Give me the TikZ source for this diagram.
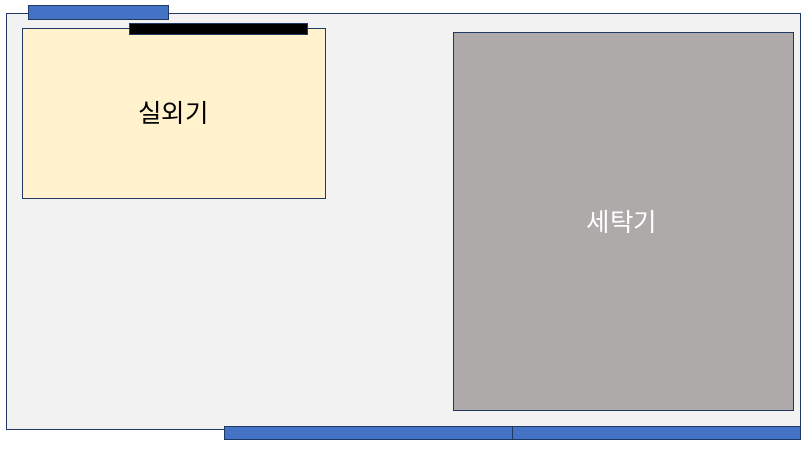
\documentclass[tikz,border=0pt]{standalone}
\usepackage{fontspec}
\newfontfamily\kr{Noto Sans CJK KR}
\usepackage{xcolor}
\definecolor{roomgray}{HTML}{F2F2F2}
\definecolor{edgenavy}{HTML}{1F3864}
\definecolor{winblue}{HTML}{4472C4}
\definecolor{unitcream}{HTML}{FFF2CC}
\definecolor{washgray}{HTML}{AEAAAA}
\tikzset{
  part/.style={draw=edgenavy,line width=0.9pt},
  label/.style={font=\kr\fontsize{25.5}{30}\selectfont,inner sep=0pt}
}
\begin{document}
\begin{tikzpicture}[x=1pt,y=-1pt]
        \useasboundingbox (0,0) rectangle (808,448);
        % room
        \draw[part,fill=roomgray] (6.5,13.5) rectangle (800.5,429.5);
        % windows
        \draw[part,fill=winblue] (28.5,5.5) rectangle (168.5,19.5);
        \foreach \a/\b in {224.5/512.5,512.5/800.5} {
        \draw[part,fill=winblue] (\a,426) rectangle (\b,439.5); }
        % outdoor unit
        \draw[part,fill=unitcream] (22.5,28.5) rectangle (325.5,198);
        \draw[part,fill=black] (129.5,23.5) rectangle (307.5,34.5);
        \node[label] (unit) at (173.5,113) {실외기};
        % washer
        \draw[part,fill=washgray] (453.5,32.5) rectangle (793.5,410.5);
        \node[label,white] (washer) at (622,222) {세탁기};
      \end{tikzpicture}
\end{document}
